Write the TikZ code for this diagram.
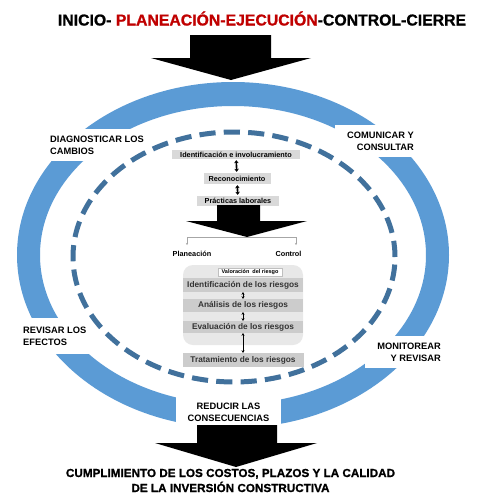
\documentclass[tikz,border=0pt]{standalone}
\usepackage{fontspec}
\setmainfont{Liberation Sans}
\newfontfamily\heavyfont{Liberation Sans}[BoldFeatures={FakeBold=1}]
\usetikzlibrary{positioning}
\usetikzlibrary{arrows.meta}
\definecolor{ringblue}{HTML}{5B9BD5}
\definecolor{dashblue}{HTML}{41719C}
\definecolor{titlered}{HTML}{C00000}

\tikzset{
	lbl/.style={fill=white, inner xsep=12pt, inner ysep=7pt, font=\fontsize{9.3}{11.7}\selectfont\bfseries},
	stage/.style={fill=gray!30, inner sep=0pt, font=\fontsize{7.3}{8}\selectfont\bfseries},
	band/.style={fill=gray!40, inner sep=0pt, minimum width=120pt, text=black!80, font=\fontsize{8.3}{9}\selectfont\bfseries},
	small/.style={inner sep=0pt, font=\fontsize{7.3}{8}\selectfont\bfseries},
	bigdbl/.style={line width=1.6pt, {Stealth[length=3pt,width=4.5pt]}-{Stealth[length=3pt,width=4.5pt]}},
	smalldbl/.style={line width=0.7pt, {Stealth[length=2.5pt,width=3.2pt]}-{Stealth[length=2.5pt,width=3.2pt]}},
	fork/.style={gray!70, line width=0.5pt},
}

\begin{document}
\begin{tikzpicture}[x=1pt, y=-1pt]
	\useasboundingbox (0,0) rectangle (499,501);
	\fill[white] (0,0) rectangle (499,501);
	
	\fill[ringblue, even odd rule] (233,255) ellipse [x radius=216pt, y radius=173pt]
		(233,255) ellipse [x radius=193pt, y radius=149pt];
	
	\node[lbl, align=left, anchor=west] (diag) at (38,145) {DIAGNOSTICAR LOS\\CAMBIOS};
	\node[lbl, align=right, anchor=east] (comu) at (426,141) {COMUNICAR Y\\CONSULTAR};
	\node[lbl, align=left, anchor=west, inner ysep=9pt] (revi) at (11,336) {REVISAR LOS\\EFECTOS};
	\node[lbl, align=right, anchor=east] (moni) at (453,352) {MONITOREAR\\Y REVISAR};
	\node[lbl, align=center] (redu) at (228.5,412) {REDUCIR LAS\\CONSECUENCIAS};
	
	\draw[dashblue, line width=5pt, dash pattern=on 16.2pt off 8.2pt] (234,257) ellipse [x radius=161pt, y radius=125pt];
	
	\node[stage, minimum width=128pt, minimum height=9pt] (ident) at (236,154.5) {Identificación e involucramiento};
	\node[stage, minimum width=67pt, minimum height=11pt] (recon) at (237,178.5) {Reconocimiento};
	\node[stage, minimum width=82pt, minimum height=10pt] (pract) at (238,201) {Prácticas laborales};
	\draw[bigdbl, shorten <=1pt, shorten >=1pt] (ident) -- (recon);
	\draw[bigdbl, shorten <=1pt, shorten >=1pt] (recon) -- (pract);
	
	\fill (217,205) -- (260,205) -- (260,221) -- (307,221) -- (247,237) -- (186,221) -- (217,221) -- cycle;
	
	\coordinate (fkL) at (187,237);
	\coordinate (fkR) at (296,237);
	\coordinate (fkLd) at (187,245);
	\coordinate (fkRd) at (296,245);
	\draw[fork, {Stealth[length=2pt,width=2pt]}-{Stealth[length=2pt,width=2pt]}] (fkLd) -- (fkL) -- (fkR) -- (fkRd);
	\node[small] (plan) at (192,254) {Planeación};
	\node[small] (ctrl) at (288.5,254) {Control};
	
	\node[fill=gray!18, rounded corners=10pt, minimum width=120pt, minimum height=80pt] (valor) at (243,305) {};
	\node[fill=white, draw=gray!50, line width=0.4pt, inner sep=0pt, minimum width=64pt, minimum height=8pt, font=\fontsize{5.5}{6}\selectfont\bfseries] (vtit) at (250,272) {Valoración\ \ del riesgo};
	\node[band, minimum height=14pt] (r1) at (243,285) {Identificación de los riesgos};
	\node[band, minimum height=13pt] (r2) at (243,305.5) {Análisis de los riesgos};
	\node[band, minimum height=12pt] (r3) at (243,327) {Evaluación de los riesgos};
	\node[band, minimum height=14pt, minimum width=121pt] (r4) at (243,360) {Tratamiento de los riesgos};
	\draw[smalldbl] (r1) -- (r2);
	\draw[smalldbl] (r2) -- (r3);
	\draw[smalldbl] (r3) -- (r4);
	
	\fill (197,425) -- (277,425) -- (277,443) -- (317,443) -- (236,467) -- (155,443) -- (197,443) -- cycle;
	\node[font=\fontsize{11.7}{15}\selectfont\heavyfont\bfseries, align=center] (goal) at (230.5,480.5) {CUMPLIMIENTO DE LOS COSTOS, PLAZOS Y LA CALIDAD\\DE LA INVERSIÓN CONSTRUCTIVA};
	
	\fill (190,35) -- (271,35) -- (271,58) -- (311,58) -- (231,80) -- (151,58) -- (190,58) -- cycle;
	\node[font=\fontsize{15.8}{19}\selectfont\heavyfont\bfseries, anchor=base] (title) at (262,25.5) {INICIO- \textcolor{titlered}{PLANEACIÓN-EJECUCIÓN}-CONTROL-CIERRE};
\end{tikzpicture}
\end{document}
